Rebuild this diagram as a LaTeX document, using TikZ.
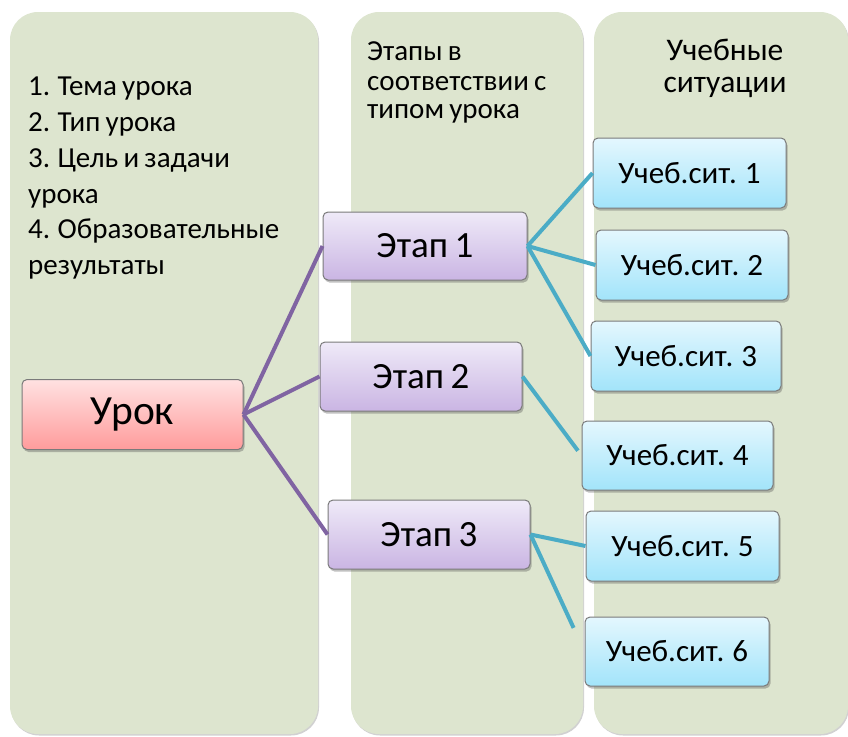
\documentclass[tikz,border=0pt]{standalone}
\usepackage{fontspec}
\setmainfont[WordSpace=0.8]{Carlito}
\usetikzlibrary{shadows}
\definecolor{colbg}{HTML}{DDE5CF}
\definecolor{purpleline}{HTML}{8064A2}
\definecolor{cyanline}{HTML}{4BACC6}
\definecolor{redtop}{HTML}{FFE1E1}
\definecolor{redbot}{HTML}{FF9C9C}
\definecolor{purtop}{HTML}{EFEAF8}
\definecolor{purbot}{HTML}{CAB5E3}
\definecolor{cyatop}{HTML}{E4F7FE}
\definecolor{cyabot}{HTML}{A2E4FA}
\definecolor{boxborder}{HTML}{7A7A7A}
\tikzset{
  column/.style={fill=colbg, rounded corners=28pt,
    drop shadow={shadow xshift=1pt, shadow yshift=-1.5pt, opacity=0.18, fill=black}},
  box/.style={draw=boxborder, line width=1pt, rounded corners=5pt, inner sep=0pt,
    drop shadow={shadow xshift=1.5pt, shadow yshift=-2.5pt, opacity=0.35, fill=black!70}},
  lessonbox/.style={box, top color=redtop, bottom color=redbot, font=\fontsize{41.5}{46}\selectfont},
  stagebox/.style={box, top color=purtop, bottom color=purbot, font=\fontsize{37}{42}\selectfont},
  sitbox/.style={box, top color=cyatop, bottom color=cyabot, font=\fontsize{31}{36}\selectfont},
  coltext/.style={anchor=base west, inner sep=0pt, font=\fontsize{29}{33}\selectfont},
  midtext/.style={anchor=base west, inner sep=0pt, font=\fontsize{29}{33}\selectfont},
  headtext/.style={anchor=base, inner sep=0pt, font=\fontsize{31.5}{35}\selectfont},
  plink/.style={draw=purpleline, line width=4pt},
  clink/.style={draw=cyanline, line width=4pt},
}
\begin{document}
\begin{tikzpicture}[x=1pt,y=-1pt]
\useasboundingbox (0,0) rectangle (848,736);
% columns
\path[column] (10,12) rectangle (318,734);
\path[column] (351,12) rectangle (583,734);
\path[column] (594,12) rectangle (848,734);
% column texts
\node[coltext] (t1) at (28,95) {1. Тема урока};
\node[coltext] (t2) at (28,131) {2. Тип урока};
\node[coltext] (t3) at (28,167) {3. Цель и задачи};
\node[coltext] (t4) at (28,203) {урока};
\node[coltext] (t5) at (28,238) {4. Образовательные};
\node[coltext] (t6) at (28,274) {результаты};
\node[midtext] (h1) at (367,60) {Этапы в};
\node[midtext] (h2) at (367,90) {соответствии с};
\node[midtext] (h3) at (367,118) {типом урока};
\node[headtext] (s1) at (725,60) {Учебные};
\node[headtext] (s2) at (725,92) {ситуации};
% nodes
\node[lessonbox, minimum width=221pt, minimum height=70pt] (urok) at (132.5,414.5) {Урок};
\node[stagebox, minimum width=204pt, minimum height=68pt] (e1) at (425,246) {Этап 1};
\node[stagebox, minimum width=202pt, minimum height=69pt] (e2) at (421,376.5) {Этап 2};
\node[stagebox, minimum width=202pt, minimum height=69pt] (e3) at (429,534.5) {Этап 3};
\node[sitbox, minimum width=193pt, minimum height=70pt] (u1) at (689.5,173) {Учеб.сит. 1};
\node[sitbox, minimum width=192pt, minimum height=70pt] (u2) at (692,265) {Учеб.сит. 2};
\node[sitbox, minimum width=190pt, minimum height=70pt] (u3) at (686,356) {Учеб.сит. 3};
\node[sitbox, minimum width=191pt, minimum height=69pt] (u4) at (677.5,455.5) {Учеб.сит. 4};
\node[sitbox, minimum width=193pt, minimum height=70pt] (u5) at (682.5,546) {Учеб.сит. 5};
\node[sitbox, minimum width=184pt, minimum height=69pt] (u6) at (677,651.5) {Учеб.сит. 6};
% connectors
\draw[plink] (urok.east) -- (e1.west);
\draw[plink] (urok.east) -- (e2.west);
\draw[plink] (urok.east) -- (e3.west);
\draw[clink] (e1.east) -- (u1.west);
\draw[clink] (e1.east) -- (u2.west);
\draw[clink] (e1.east) -- (u3.west);
\draw[clink, shorten >=6pt] (e2.east) -- (u4.west);
\draw[clink] (e3.east) -- (u5.west);
\draw[clink, shorten >=26pt] (e3.east) -- (u6.west);
\end{tikzpicture}
\end{document}
